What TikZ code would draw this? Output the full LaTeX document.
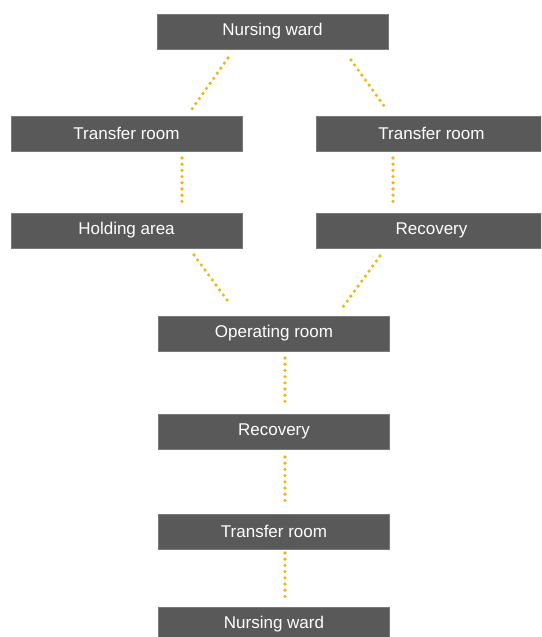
\documentclass[tikz,border=0pt]{standalone}
\usepackage{fontspec}
\setmainfont{Liberation Sans}
\definecolor{boxgray}{HTML}{595959}
\definecolor{boxedge}{HTML}{7A7A7A}
\definecolor{dotyel}{HTML}{F2B518}
\begin{document}
\begin{tikzpicture}[x=1pt,y=-1pt,
  stepbox/.style={rectangle, fill=boxgray, draw=boxedge, line width=0.5pt,
    minimum width=231pt, minimum height=35pt, inner sep=0pt,
    text=white, font=\fontsize{17}{19}\selectfont},
  flow/.style={draw=dotyel, line width=3.6pt, line cap=round, dash pattern=on 0pt off 6.2pt}]
\useasboundingbox (0,0) rectangle (541,637);
\begin{scope}
\clip (0,0) rectangle (541,637);
\node[stepbox] (nw1) at (272.5,31.5) {Nursing ward};
\node[stepbox] (trL) at (126.5,133.5) {Transfer room};
\node[stepbox] (trR) at (431.5,133.5) {Transfer room};
\node[stepbox] (ha)  at (126.5,230.5) {Holding area};
\node[stepbox] (rcR) at (431.5,230.5) {Recovery};
\node[stepbox] (op)  at (274,333.5) {Operating room};
\node[stepbox] (rc)  at (274,431.5) {Recovery};
\node[stepbox] (tr)  at (274,531.5) {Transfer room};
\node[stepbox] (nw2) at (274,624.5) {Nursing ward};
\end{scope}
% connector end points
\coordinate (a1) at (228,58);  \coordinate (a2) at (192,109);
\coordinate (b1) at (351,60);  \coordinate (b2) at (387,110);
\coordinate (c1) at (182,158); \coordinate (c2) at (182,207);
\coordinate (d1) at (393,158); \coordinate (d2) at (393,207);
\coordinate (e1) at (194,255); \coordinate (e2) at (230,304);
\coordinate (f1) at (380,256); \coordinate (f2) at (343,307);
\coordinate (g1) at (285,358); \coordinate (g2) at (285,407);
\coordinate (h1) at (285,457); \coordinate (h2) at (285,506);
\coordinate (i1) at (285,553); \coordinate (i2) at (285,601);
\draw[flow] (a1) -- (a2);
\draw[flow] (b1) -- (b2);
\draw[flow] (c1) -- (c2);
\draw[flow] (d1) -- (d2);
\draw[flow] (e1) -- (e2);
\draw[flow] (f1) -- (f2);
\draw[flow] (g1) -- (g2);
\draw[flow] (h1) -- (h2);
\draw[flow] (i1) -- (i2);
\end{tikzpicture}
\end{document}
